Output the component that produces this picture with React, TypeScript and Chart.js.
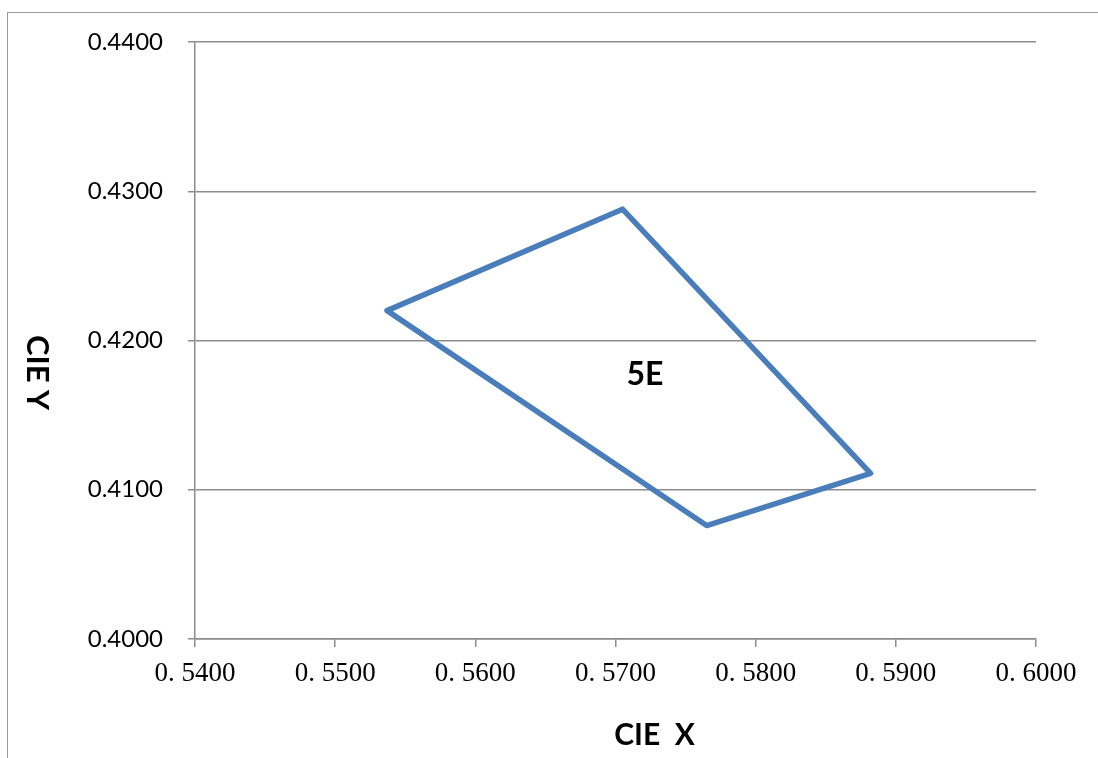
import React, { useEffect, useRef } from "react";
import { Chart, registerables } from "chart.js";

Chart.register(...registerables);

// Data: polygon vertices of the 5E region (closed by repeating the first point)
const cieX = [0.5537, 0.5705, 0.5882, 0.5765, 0.5537];
const cieY = [0.4220, 0.4288, 0.4111, 0.4076, 0.4220];

// Region label
const regionLabels = ["5E"];
const regionLabelX = [0.5721];
const regionLabelY = [0.4177];

// Axis ranges / ticks
const xMin = 0.54;
const xMax = 0.6;
const xStep = 0.01;
const yMin = 0.4;
const yMax = 0.44;
const yStep = 0.01;

const xTitle = "CIE  X";
const yTitle = "CIE Y";

const SANS = "Lato, 'Open Sans', 'Liberation Sans', sans-serif";
const SERIF = "'Liberation Serif', 'DejaVu Serif', serif";

const annotationPlugin = {
  id: "annotations",
  afterDatasetsDraw(chart: any) {
    const ctx = chart.ctx;
    const xs = chart.scales.x;
    const ys = chart.scales.y;
    ctx.save();
    ctx.fillStyle = "#000";
    ctx.textAlign = "center";
    ctx.textBaseline = "middle";
    ctx.font = `bold 32px ${SANS}`;
    regionLabels.forEach((t, i) => {
      ctx.fillText(t, xs.getPixelForValue(regionLabelX[i]), ys.getPixelForValue(regionLabelY[i]));
    });
    ctx.restore();
  },
  afterDraw(chart: any) {
    const ctx = chart.ctx;
    const area = chart.chartArea;
    ctx.save();
    ctx.fillStyle = "#000";
    ctx.textAlign = "center";
    ctx.textBaseline = "middle";
    ctx.font = `bold 30px ${SANS}`;
    // X title
    ctx.fillText(xTitle, (area.left + area.right) / 2 + 39, area.bottom + 96);
    // Y title, rotated clockwise
    ctx.font = `bold 31px ${SANS}`;
    ctx.translate(37, (area.top + area.bottom) / 2 + 32);
    ctx.rotate(Math.PI / 2);
    ctx.fillText(yTitle, 0, 0);
    ctx.restore();
  },
};

export default function App() {
  const canvasRef = useRef<HTMLCanvasElement | null>(null);

  useEffect(() => {
    if (!canvasRef.current) return;
    const points = cieX.map((x, i) => ({ x, y: cieY[i] }));
    const chart = new Chart(canvasRef.current, {
      type: "scatter",
      data: {
        datasets: [
          {
            label: "5E",
            data: points,
            showLine: true,
            borderColor: "#4a7ebb",
            backgroundColor: "#4a7ebb",
            borderWidth: 5.5,
            pointRadius: 0,
            pointHoverRadius: 0,
            borderJoinStyle: "round",
            borderCapStyle: "round",
            tension: 0,
          } as any,
        ],
      },
      options: {
        animation: false,
        responsive: false,
        devicePixelRatio: 1,
        layout: { padding: { top: 42, right: 62, bottom: 0, left: 0 } },
        plugins: {
          legend: { display: false },
          tooltip: { enabled: false },
          title: { display: false },
        },
        scales: {
          x: {
            type: "linear",
            min: xMin,
            max: xMax,
            afterFit: (s: any) => {
              s.height = 119;
            },
            ticks: {
              stepSize: xStep,
              padding: 11,
              color: "#000",
              font: { family: SERIF, size: 27 },
              maxRotation: 0,
              autoSkip: false,
              callback: (v: any) => Number(v).toFixed(4).replace(".", ". "),
            },
            grid: {
              drawOnChartArea: false,
              drawTicks: true,
              tickLength: 8,
              color: "#8c8c8c",
              lineWidth: 1.5,
            },
            border: { display: true, color: "#8c8c8c", width: 1.5 },
          },
          y: {
            type: "linear",
            min: yMin,
            max: yMax,
            afterFit: (s: any) => {
              s.width = 195;
            },
            ticks: {
              stepSize: yStep,
              padding: 25,
              color: "#000",
              font: { family: SANS, size: 24 },
              autoSkip: false,
              callback: (v: any) => Number(v).toFixed(4),
            },
            grid: {
              drawOnChartArea: true,
              drawTicks: true,
              tickLength: 7,
              color: "#8c8c8c",
              lineWidth: 1.5,
            },
            border: { display: true, color: "#8c8c8c", width: 1.5 },
          },
        },
      },
      plugins: [annotationPlugin],
    });
    return () => chart.destroy();
  }, []);

  return (
    <div
      style={{
        position: "absolute",
        left: 0,
        top: 0,
        width: 1098,
        height: 758,
        overflow: "hidden",
        background: "#fff",
      }}
    >
      <div
        style={{
          position: "absolute",
          left: 7,
          top: 12,
          width: 1200,
          height: 900,
          borderTop: "1.5px solid #999",
          borderLeft: "1.5px solid #999",
        }}
      />
      <canvas
        ref={canvasRef}
        width={1098}
        height={758}
        style={{ position: "absolute", left: 0, top: 0, width: 1098, height: 758 }}
      />
    </div>
  );
}
